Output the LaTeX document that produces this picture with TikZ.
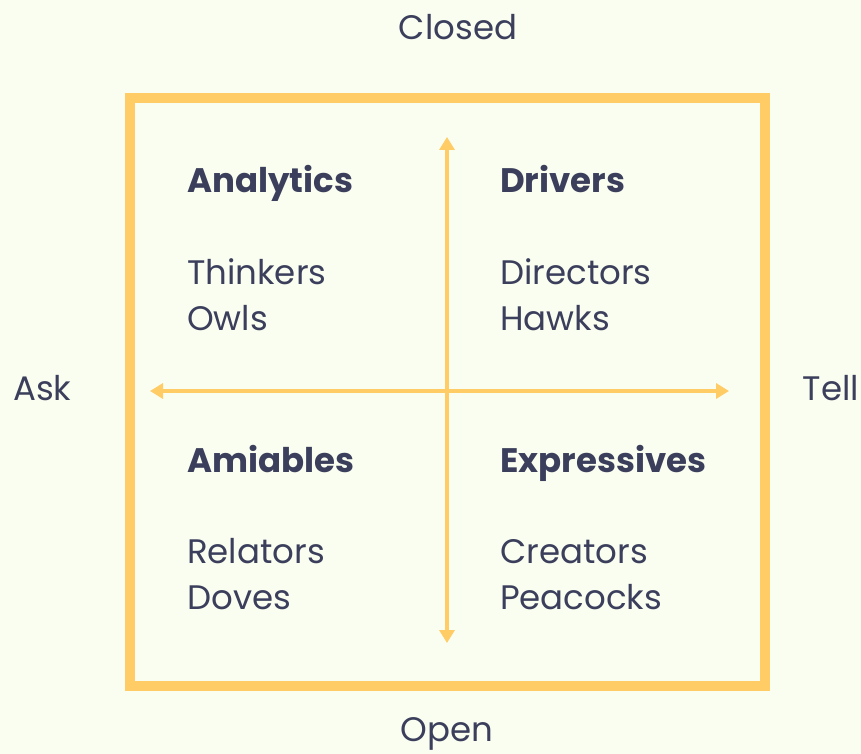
\documentclass[tikz,border=0pt]{standalone}
\usepackage{fontspec}
\setmainfont{Poppins}
\usetikzlibrary{arrows.meta}
\definecolor{bgcol}{HTML}{FAFEF0}
\definecolor{gold}{HTML}{FFCC66}
\definecolor{ink}{HTML}{3B3F5C}
\tikzset{
  axis/.style={gold, line width=4pt, -{Triangle[length=13pt,width=15pt]}},
  head/.style={anchor=base west, inner sep=0pt, text=ink, font=\fontsize{34}{40}\selectfont\bfseries},
  item/.style={anchor=base west, inner sep=0pt, text=ink, font=\fontsize{34}{40}\selectfont},
  pole/.style={anchor=base, inner sep=0pt, text=ink, font=\fontsize{34}{40}\selectfont}
}
\begin{document}
\begin{tikzpicture}[x=1pt,y=-1pt]
  \fill[bgcol] (0,0) rectangle (861,754);
  \useasboundingbox (0,0) rectangle (861,754);
  \draw[gold, line width=10pt] (130,98) rectangle (765,686);

  % axis labels
  \node[pole] (closed) at (458,40) {Closed};
  \node[pole] (open)   at (447,741) {Open};
  \node[pole, anchor=base west] (ask)  at (13,400) {Ask};
  \node[pole, anchor=base east] (tell) at (859,400) {Tell};

  \coordinate (top)    at (447,137);
  \coordinate (bottom) at (447,643);
  \coordinate (left)   at (150,391);
  \coordinate (right)  at (729,391);
  \coordinate (mid)    at (447,391);
  \draw[axis] (mid) -- (top);
  \draw[axis] (mid) -- (bottom);
  \draw[axis] (mid) -- (left);
  \draw[axis] (mid) -- (right);

  % quadrants
  \node[head] (analytics)   at (187,192) {Analytics};
  \node[head] (drivers)     at (500,192) {Drivers};
  \node[head] (amiables)    at (187,472) {Amiables};
  \node[head] (expressives) at (500,472) {Expressives};

  \node[item] (thinkers)  at (187,284) {Thinkers};
  \node[item] (owls)      at (187,330) {Owls};
  \node[item] (directors) at (500,284) {Directors};
  \node[item] (hawks)     at (500,330) {Hawks};
  \node[item] (relators)  at (187,563) {Relators};
  \node[item] (doves)     at (187,609) {Doves};
  \node[item] (creators)  at (500,563) {Creators};
  \node[item] (peacocks)  at (500,609) {Peacocks};
\end{tikzpicture}
\end{document}
